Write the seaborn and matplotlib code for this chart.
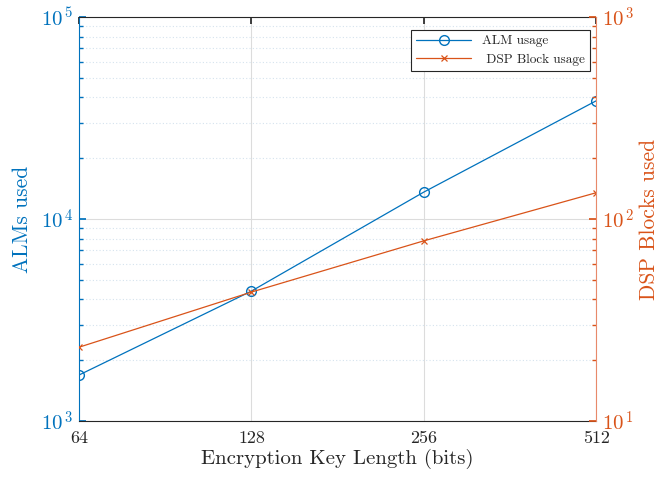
import numpy as np
import pandas as pd
import matplotlib
matplotlib.use('Agg')
import matplotlib.pyplot as plt
import seaborn as sns
from matplotlib.ticker import FixedLocator, FixedFormatter, LogLocator, NullFormatter

# Dados
key_bits = [64, 128, 256, 512]
alm_usage = [1690, 4400, 13600, 38500]
dsp_usage = [23.2, 43.5, 78, 135]

BLUE = "#0072BD"
ORANGE = "#D95319"

sns.set_theme(style="white")
plt.rcParams['font.family'] = ['cmr10', 'DejaVu Serif']
plt.rcParams['mathtext.fontset'] = 'cm'
plt.rcParams['axes.formatter.use_mathtext'] = True

df = pd.DataFrame({"bits": key_bits, "alm": alm_usage, "dsp": dsp_usage})

fig = plt.figure(figsize=(6.7, 4.79), dpi=100)
ax = fig.add_axes([0.118, 0.121, 0.772, 0.8435])
ax2 = ax.twinx()

sns.lineplot(data=df, x="bits", y="alm", ax=ax, color=BLUE, marker="o", markersize=7,
             markerfacecolor="none", markeredgecolor=BLUE, markeredgewidth=1.0,
             linewidth=0.9, label="ALM usage", legend=False)
sns.lineplot(data=df, x="bits", y="dsp", ax=ax2, color=ORANGE, marker="x", markersize=5,
             markeredgecolor=ORANGE, markeredgewidth=0.9,
             linewidth=0.9, label=" DSP Block usage", legend=False)

ax.set_xscale("log", base=2)
ax.set_yscale("log")
ax2.set_yscale("log")
ax.set_xlim(64, 512)
ax.set_ylim(1e3, 1e5)
ax2.set_ylim(1e1, 1e3)

ax.xaxis.set_major_locator(FixedLocator(key_bits))
ax.xaxis.set_major_formatter(FixedFormatter([str(b) for b in key_bits]))
ax.xaxis.set_minor_locator(FixedLocator([]))

ax.yaxis.set_major_locator(FixedLocator([1e3, 1e4, 1e5]))
ax.yaxis.set_major_formatter(FixedFormatter([r'$10^{\,3}$', r'$10^{\,4}$', r'$10^{\,5}$']))
ax.yaxis.set_minor_locator(LogLocator(base=10, subs=np.arange(2, 10)))
ax.yaxis.set_minor_formatter(NullFormatter())
ax2.yaxis.set_major_locator(FixedLocator([1e1, 1e2, 1e3]))
ax2.yaxis.set_major_formatter(FixedFormatter([r'$10^{\,1}$', r'$10^{\,2}$', r'$10^{\,3}$']))
ax2.yaxis.set_minor_locator(LogLocator(base=10, subs=np.arange(2, 10)))
ax2.yaxis.set_minor_formatter(NullFormatter())

# grades
ax.grid(True, which="major", axis="both", color="#dcdcdc", linewidth=0.8, linestyle="-")
ax.grid(True, which="minor", axis="y", color="#d5e3ee", linewidth=0.8, linestyle=(0, (1, 2)))
ax.set_axisbelow(True)

for a in (ax, ax2):
    for s in a.spines.values():
        s.set_linewidth(0.8)
ax.spines["top"].set_color("#262626")
ax.spines["bottom"].set_color("#262626")
ax.spines["left"].set_color(BLUE)
ax2.spines["right"].set_color("#E8896A")
ax2.spines["left"].set_visible(False)
ax2.spines["top"].set_visible(False)
ax2.spines["bottom"].set_visible(False)
ax.spines["right"].set_visible(False)

ax.tick_params(axis="x", which="major", direction="in", length=5, top=True, labelsize=13,
               colors="#262626", pad=7)
ax.tick_params(axis="y", which="major", direction="in", length=5, labelsize=15,
               colors=BLUE, pad=4)
ax.tick_params(axis="y", which="minor", direction="in", length=3, color=BLUE)
ax2.tick_params(axis="y", which="major", direction="in", length=5, labelsize=15,
                colors=ORANGE, pad=4)
ax2.tick_params(axis="y", which="minor", direction="in", length=3, color=ORANGE)

ax.set_xlabel("Encryption Key Length (bits)", fontsize=15, color="#262626", labelpad=2)
ax.set_ylabel("ALMs used", fontsize=15.5, color=BLUE, labelpad=6)
ax2.set_ylabel("DSP Blocks used", fontsize=15.5, color=ORANGE, labelpad=4)

h1, l1 = ax.get_legend_handles_labels()
h2, l2 = ax2.get_legend_handles_labels()
leg = ax2.legend(h1 + h2, l1 + l2, loc="upper right", bbox_to_anchor=(0.988, 0.968),
                 borderaxespad=0, fontsize=9.5, frameon=True, fancybox=False, framealpha=1,
                 edgecolor="#262626", handlelength=4.2, borderpad=0.4, labelspacing=0.45)
leg.get_frame().set_linewidth(0.8)

fig.savefig("out.png", dpi=100)
plt.close(fig)
